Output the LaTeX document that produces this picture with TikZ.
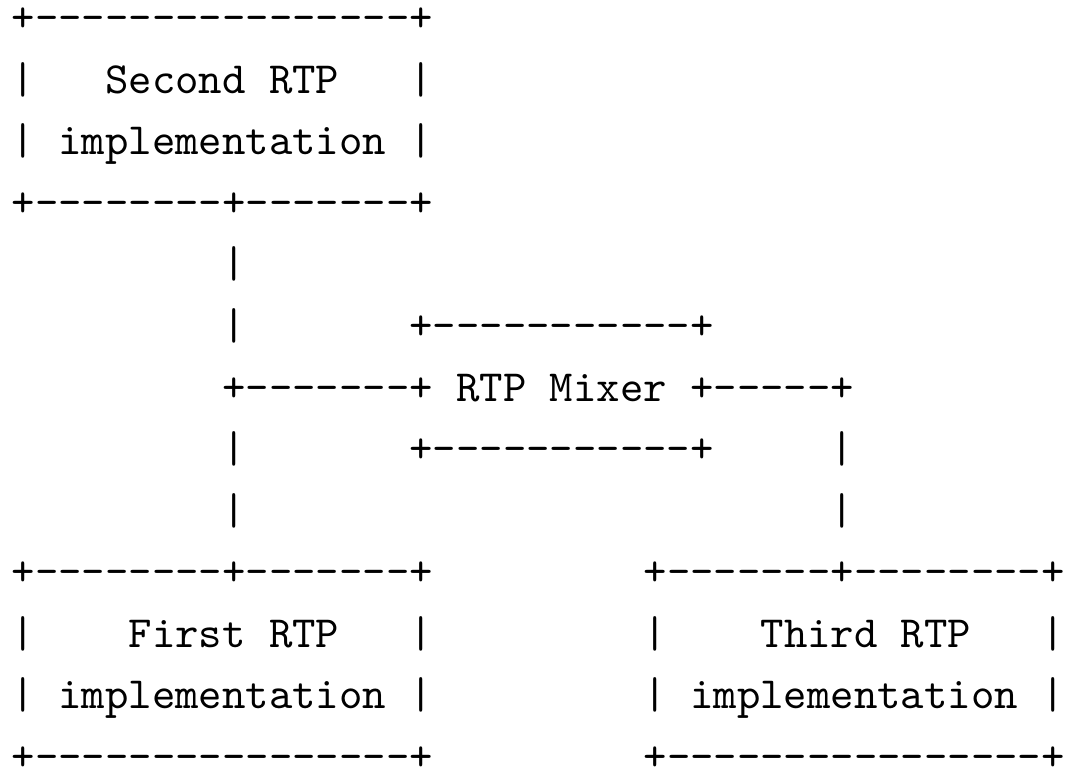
\documentclass[tikz,border=0pt]{standalone}
\newcommand\dd[1]{\foreach\i in {1,...,#1}{\mbox{-}}}
\tikzset{txt/.style={anchor=base west, inner sep=0pt, outer sep=0pt, font=\ttfamily}}
\newcommand\putat[4]{\node[txt] (#1) at ({11.8+#2*23.4},{32+61.5*(#3-1)}) {#4};}
\begin{document}
\begin{tikzpicture}[x=0.2244pt,y=-0.2244pt]
\useasboundingbox (0,0) rectangle (1068,776);
% Second RTP implementation
\putat{atop}{0}{1}{+\dd{16}+}
\putat{al}{0}{2}{|}
\putat{atext}{4}{2}{Second RTP}
\putat{ar}{17}{2}{|}
\putat{aimpl}{0}{3}{| implementation |}
\putat{abot}{0}{4}{+\dd{8}+\dd{7}+}
% vertical line from second
\putat{v5}{9}{5}{|}
\putat{v6}{9}{6}{|}
% mixer
\putat{mtop}{17}{6}{+\dd{11}+}
\putat{mrow}{9}{7}{+\dd{7}+ RTP Mixer +\dd{5}+}
\putat{v8}{9}{8}{|}
\putat{mbot}{17}{8}{+\dd{11}+}
\putat{w8}{35}{8}{|}
\putat{v9}{9}{9}{|}
\putat{w9}{35}{9}{|}
% First RTP implementation
\putat{btop}{0}{10}{+\dd{8}+\dd{7}+}
\putat{bl}{0}{11}{|}
\putat{btext}{5}{11}{First RTP}
\putat{br}{17}{11}{|}
\putat{bimpl}{0}{12}{| implementation |}
\putat{bbot}{0}{13}{+\dd{16}+}
% Third RTP implementation
\putat{ctop}{27}{10}{+\dd{7}+\dd{8}+}
\putat{cl}{27}{11}{|}
\putat{ctext}{32}{11}{Third RTP}
\putat{cr}{44}{11}{|}
\putat{cimpl}{27}{12}{| implementation |}
\putat{cbot}{27}{13}{+\dd{16}+}
\end{tikzpicture}
\end{document}
